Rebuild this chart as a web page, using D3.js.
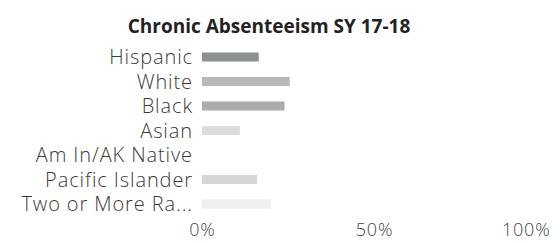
<!DOCTYPE html>
<html>
<head>
<meta charset="utf-8">
<script src="https://cdnjs.cloudflare.com/ajax/libs/d3/7.8.5/d3.min.js"></script>
<style>
  body { margin: 0; background: #fff; }
  svg { display: block; }
  .title { font-family: "Open Sans", sans-serif; font-weight: bold; font-size: 19px; fill: #222; }
  .label { font-family: "Open Sans", sans-serif; font-weight: 300; font-size: 20px; letter-spacing: 0.9px; fill: #3a3a3a; }
  .x-axis text { font-family: "Open Sans", sans-serif; font-weight: 300; font-size: 18px; letter-spacing: 0.8px; fill: #444; }
</style>
</head>
<body>
<div id="chart"></div>
<script>
// chart size (matches the window)
var w = 560;
var h = 243;

// data
var categories = ['Hispanic', 'White', 'Black', 'Asian', 'Am In/AK Native', 'Pacific Islander', 'Two or More Ra...'];
var values = [0.165, 0.255, 0.24, 0.11, 0, 0.16, 0.2];
var barColors = ['#8d918d', '#b8b8b8', '#ababab', '#dcdcdc', '#dcdcdc', '#d6d6d6', '#efefef'];
var tickValues = [0, 0.5, 1];
var tickLabels = ['0%', '50%', '100%'];

var svg = d3.select('#chart').append('svg')
			.attr('width', w)
			.attr('height', h);

svg.append('text')
	.attr('class', 'title')
	.attr('x', 269)
	.attr('y', 33)
	.attr('text-anchor', 'middle')
	.text('Chronic Absenteeism SY 17-18');

var x = d3.scaleLinear()
			.domain([0, 1])
			.range([202, 546]);

var y = d3.scaleBand()
			.domain(categories)
			.range([44.75, 216.25])
			.paddingInner(0.63)
			.paddingOuter(0.315);

var rows = svg.append('g')
	.selectAll('g')
	.data(categories)
	.enter().append('g');

rows.append('text')
	.attr('class', 'label')
	.attr('x', x(0) - 9)
	.attr('y', function(d) { return y(d) + y.bandwidth() / 2; })
	.attr('dy', '0.35em')
	.attr('text-anchor', 'end')
	.text(function(d) { return d; });

rows.append('rect')
	.attr('x', x(0))
	.attr('y', function(d) { return y(d); })
	.attr('height', y.bandwidth())
	.attr('width', function(d, i) { return x(values[i]) - x(0); })
	.attr('fill', function(d, i) { return barColors[i]; });

var xAxis = d3.axisBottom(x)
				.tickValues(tickValues)
				.tickFormat(function(d, i) { return tickLabels[i]; })
				.tickSize(0)
				.tickPadding(0);

var axisG = svg.append('g')
	.attr('class', 'x-axis')
	.attr('transform', 'translate(0,' + 223 + ')')
	.call(xAxis);

axisG.select('.domain').remove();

// last label is pulled in so it stays inside the frame
axisG.selectAll('.tick text')
	.filter(function(d) { return d === 1; })
	.attr('text-anchor', 'end')
	.attr('dx', 4)
	.attr('fill', '#bbb');
</script>
</body>
</html>
